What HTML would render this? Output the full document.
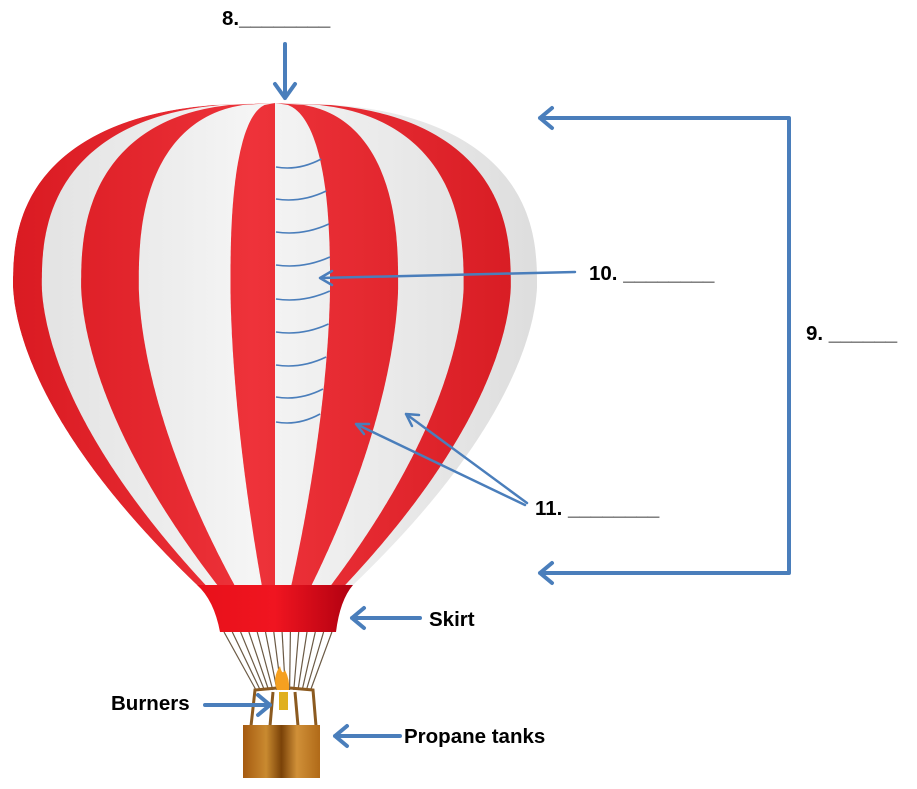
<!DOCTYPE html>
<html><head><meta charset="utf-8"><style>
html,body{margin:0;padding:0;background:#fff;}
svg{display:block;}
text{font-family:"Liberation Sans",sans-serif;font-weight:bold;font-size:20.5px;fill:#000;}
</style></head><body>
<svg id="s" width="917" height="789" viewBox="0 0 917 789">
<defs>
<linearGradient id="shade" x1="0" x2="1" y1="0" y2="0">
<stop offset="0" stop-color="#000" stop-opacity="0.08"/>
<stop offset="0.45" stop-color="#fff" stop-opacity="0.1"/>
<stop offset="1" stop-color="#000" stop-opacity="0.1"/>
</linearGradient>
<linearGradient id="skirtg" x1="0" x2="1">
<stop offset="0" stop-color="#e8101a"/><stop offset="0.5" stop-color="#f01520"/><stop offset="1" stop-color="#b00010"/>
</linearGradient>
<linearGradient id="bask" x1="0" x2="1">
<stop offset="0" stop-color="#a55a10"/><stop offset="0.3" stop-color="#c98a30"/><stop offset="0.5" stop-color="#7a4208"/><stop offset="0.7" stop-color="#d09038"/><stop offset="1" stop-color="#b06a18"/>
</linearGradient>
<clipPath id="env"><path id="envclip"/></clipPath>
</defs>
<g id="balloon">
<path id="outline" fill="#f4f4f4"/>
<g id="stripes" clip-path="url(#env)"></g>
<rect x="0" y="90" width="560" height="500" fill="url(#shade)" clip-path="url(#env)"/>
</g>
<g id="hlines" stroke="#4a7ebb" stroke-width="1.6" fill="none"></g>
<g id="ropes" stroke="#6b5a45" stroke-width="1.2"></g>
<path d="M197 585 L353 585 Q340 600 336 632 L220 632 Q214 600 197 585 Z" fill="url(#skirtg)"/>
<g stroke="#8b5a20" stroke-width="3" fill="none">
<path d="M251 726 L255 690 L277 688"/><path d="M316 726 L313 690 L290 688"/>
<path d="M270 726 L273 692"/><path d="M298 726 L295 692"/>
</g>
<path d="M277 690 Q272 678 280 666 Q282 676 285 670 Q290 680 289 690 Z" fill="#f5a020"/>
<rect x="279" y="692" width="9" height="18" fill="#e0b020"/>
<rect x="243" y="725" width="77" height="53" fill="url(#bask)"/>
<g stroke="#4a7ebb" fill="none" stroke-linecap="round" stroke-linejoin="round">
<g stroke-width="4">
<path d="M285 44 L285 98 M275 84 L285 98 L295 84"/>
<path d="M540 118 L789 118 L789 573 L540 573 M552 108 L540 118 L552 128 M552 563 L540 573 L552 583"/>
<path d="M420 618 L352 618 M364 608 L352 618 L364 628"/>
<path d="M205 705 L270 705 M258 695 L270 705 L258 715"/>
<path d="M400 736 L335 736 M347 726 L335 736 L347 746"/>
</g>
<g stroke-width="2.5">
<path d="M575 272 L320 278 M332 271 L320 278 L332 285"/>
<path d="M525 505 L356 424 M369 424 L356 424 L364 434"/>
<path d="M527 503 L406 414 M419 415 L406 414 L412 426"/>
</g>
</g>
<text x="222" y="25">8.________</text>
<text x="589" y="280">10. ________</text>
<text x="806" y="340">9. ______</text>
<text x="535" y="515">11. ________</text>
<text x="429" y="626">Skirt</text>
<text x="111" y="710">Burners</text>
<text x="404" y="743">Propane tanks</text>
</svg>
<script>
const cx=275;
function hw(y){
 if(y<285){const r=(285-y)/182;return 262*Math.pow(Math.max(0,1-Math.pow(r,2.5)),0.4);}
 const u=(y-285)/300;return 78+184*(1-Math.pow(u,1.7));
}
function boundary(t){const pts=[];for(let y=103;y<=586;y+=2){pts.push([cx+t*hw(y),y]);}return pts;}
function outline(){let L=boundary(-1),R=boundary(1).reverse();return 'M'+L.concat(R).map(p=>p[0].toFixed(1)+' '+p[1]).join(' L')+' Z';}
const o=outline();
document.getElementById('outline').setAttribute('d',o);
document.getElementById('envclip').setAttribute('d',o);
const reds=[[-1,-0.89],[-0.74,-0.52],[-0.17,0],[0.21,0.47],[0.72,0.90]];
const sg=document.getElementById('stripes');
const NS='http://www.w3.org/2000/svg';
reds.forEach(function(r){
 const a=boundary(r[0]),b=boundary(r[1]).reverse();
 const p=document.createElementNS(NS,'path');
 p.setAttribute('d','M'+a.concat(b).map(q=>q[0].toFixed(1)+' '+q[1]).join(' L')+' Z');
 p.setAttribute('fill','#ec1c24');
 
 
 sg.appendChild(p);
});
const hl=document.getElementById('hlines');
[165,197,230,263,297,330,363,395,420].forEach(function(y){
 const x1=cx+1,x2=cx+0.21*hw(y);
 const p=document.createElementNS(NS,'path');
 p.setAttribute('d','M'+x1+' '+(y+2)+' Q'+((x1+x2)/2)+' '+(y+6)+' '+x2+' '+(y-6));
 
 
 hl.appendChild(p);
});
const rg=document.getElementById('ropes');
for(let i=0;i<14;i++){
 const l=document.createElementNS(NS,'line');
 l.setAttribute('x1',224+i*8.3);l.setAttribute('y1',632);
 l.setAttribute('x2',256+i*4.2);l.setAttribute('y2',690);
 
 
 rg.appendChild(l);
}
</script>
</body></html>
